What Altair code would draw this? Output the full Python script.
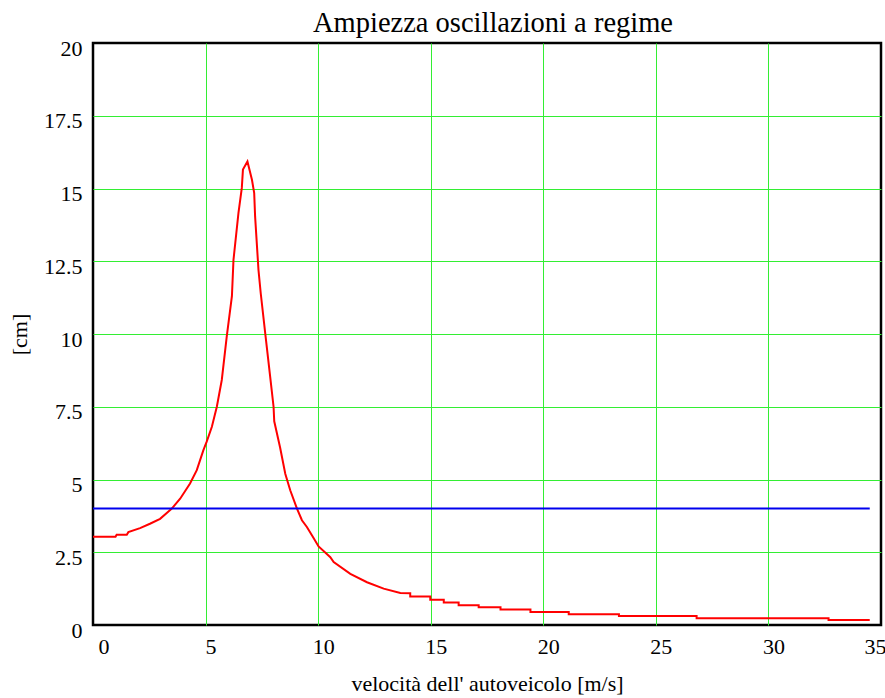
import altair as alt
import pandas as pd

# speed [m/s] and amplitude [cm]
speed = [0, 1.0, 1.05, 1.5, 1.57, 2.09, 2.53, 2.98, 3.5, 3.87, 4.31, 4.61, 4.9, 5.05,
         5.28, 5.5, 5.72, 5.94, 6.17, 6.24, 6.46, 6.61, 6.66, 6.86, 7.06, 7.16, 7.2,
         7.35, 7.45, 7.65, 7.87, 8.02, 8.05, 8.31, 8.54, 8.76, 9.06, 9.28, 9.5, 9.75,
         10.02, 10.54, 10.69, 11.43, 12.17, 12.91, 13.65,
         14.09, 14.09, 14.98, 14.98, 15.58, 15.58, 16.24, 16.24, 17.13, 17.13,
         18.1, 18.1, 19.43, 19.43, 21.13, 21.13, 23.36, 23.36, 26.81, 26.81,
         32.67, 32.67, 34.5]
amplitude = [3.03, 3.03, 3.1, 3.1, 3.19, 3.33, 3.48, 3.65, 4.0, 4.34, 4.86, 5.32, 6.0, 6.3,
             6.81, 7.5, 8.42, 9.91, 11.3, 12.55, 14.15, 15.02, 15.65, 15.93, 15.3, 14.84, 14.04,
             12.2, 11.4, 10.02, 8.53, 7.5, 7.0, 6.1, 5.2, 4.63, 4.0, 3.6, 3.37, 3.05,
             2.7, 2.33, 2.16, 1.76, 1.47, 1.25, 1.1,
             1.09, 0.98, 0.98, 0.87, 0.87, 0.77, 0.77, 0.68, 0.68, 0.61,
             0.61, 0.53, 0.53, 0.45, 0.45, 0.37, 0.37, 0.31, 0.31, 0.23,
             0.23, 0.17, 0.17]

limit_speed = [0, 34.5]
limit_value = [4.0, 4.0]

x_ticks = [0, 5, 10, 15, 20, 25, 30, 35]
y_ticks = [0, 2.5, 5, 7.5, 10, 12.5, 15, 17.5, 20]

curve = pd.DataFrame({"v": speed, "a": amplitude, "i": list(range(len(speed)))})
limit = pd.DataFrame({"v": limit_speed, "a": limit_value})

FONT = "Liberation Serif"
GRID = "#33ee33"

x_grid = {"condition": {"test": "datum.value <= 0 || datum.value >= 35", "value": "transparent"},
          "value": GRID}
y_grid = {"condition": {"test": "datum.value <= 0 || datum.value >= 20", "value": "transparent"},
          "value": GRID}

x_enc = alt.X("v:Q", scale=alt.Scale(domain=[0, 35], nice=False, zero=False),
              axis=alt.Axis(values=x_ticks, title="velocità dell' autoveicolo [m/s]",
                            grid=True, gridColor=x_grid, gridWidth=1, domain=False, ticks=False,
                            labelFlush=True, labelOffset=5, labelPadding=11,
                            labelFont=FONT, labelFontSize=22, labelColor="black",
                            titleFont=FONT, titleFontSize=22, titleFontWeight="normal",
                            titleColor="black", titlePadding=16))
y_enc = alt.Y("a:Q", scale=alt.Scale(domain=[0, 20], nice=False),
              axis=alt.Axis(values=y_ticks, labelExpr="'' + datum.value", title="[cm]",
                            grid=True, gridColor=y_grid, gridWidth=1, domain=False, ticks=False,
                            labelOffset=5, labelPadding=11,
                            labelFont=FONT, labelFontSize=22, labelColor="black",
                            titleFont=FONT, titleFontSize=22, titleFontWeight="normal",
                            titleColor="black", titlePadding=12))

red = alt.Chart(curve).mark_line(color="#ff0000", strokeWidth=2).encode(
    x=x_enc, y=y_enc, order=alt.Order("i:Q"))
blue = alt.Chart(limit).mark_line(color="#0000ee", strokeWidth=2).encode(
    x=alt.X("v:Q"), y=alt.Y("a:Q"))

chart = alt.layer(red, blue).properties(
    width=788, height=582,
    autosize=alt.AutoSizeParams(type="none"),
    padding={"left": 93, "top": 43, "right": 4, "bottom": 73},
    title=alt.TitleParams("Ampiezza oscillazioni a regime", font=FONT, fontSize=28.5,
                          fontWeight="normal", color="black", anchor="middle", offset=0, dx=6),
).configure(background="white", view=alt.ViewConfig(stroke="black", strokeWidth=2.5))

chart.save("out.html", embed_options={"renderer": "svg", "actions": False})
